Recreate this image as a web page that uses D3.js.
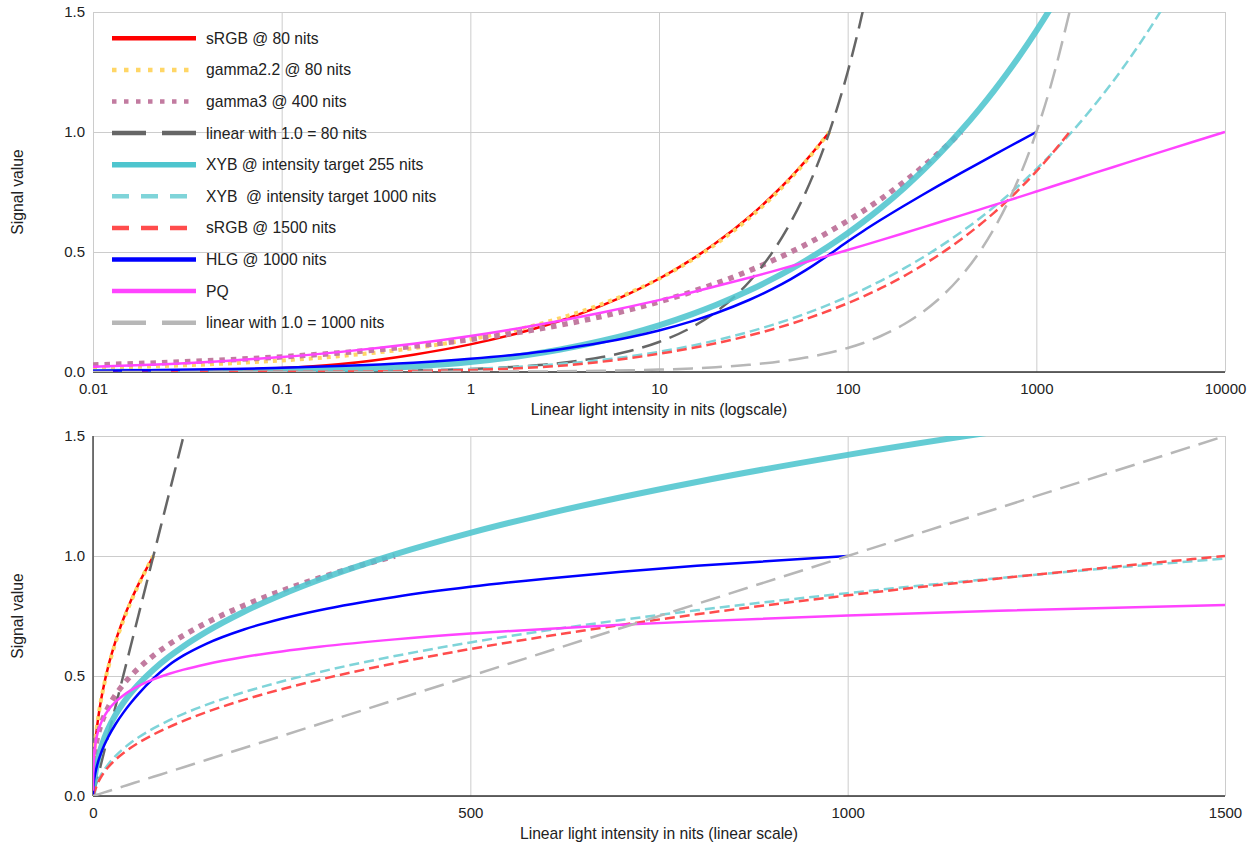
<!DOCTYPE html>
<html>
<head>
<meta charset="utf-8">
<script src="https://cdn.jsdelivr.net/npm/d3@7"></script>
<style>
  body { margin: 0; background: #fff; }
  svg { display: block; font-family: "Liberation Sans", Arial, sans-serif; }
</style>
</head>
<body>
<svg id="chart" width="1254" height="845"></svg>
<script>
// Linear light intensity (nits) shared by every series
const nits = [0.01, 0.02, 0.05, 0.1, 0.2, 0.5, 1, 2, 3, 5, 7, 10, 15, 20, 30, 40, 50, 60, 80,
  100, 120, 150, 200, 250, 300, 400, 500, 600, 700, 800, 1000, 1200, 1500, 2000, 3000, 4000, 5000, 7000, 10000];

// Signal values, index-aligned with nits (each series stops where it ends)
const srgb80 = [0.0016, 0.0032, 0.0081, 0.0162, 0.0323, 0.0723, 0.1150, 0.1718, 0.2136, 0.2773, 0.3273,
  0.3886, 0.4702, 0.5371, 0.6460, 0.7354, 0.8124, 0.8808, 1.0];
const gamma22at80 = [0.0168, 0.0231, 0.0350, 0.0479, 0.0657, 0.0996, 0.1364, 0.1870, 0.2248, 0.2836, 0.3305,
  0.3886, 0.4673, 0.5325, 0.6403, 0.7297, 0.8076, 0.8774, 1.0];
const gamma3at400 = [0.0292, 0.0368, 0.0500, 0.0630, 0.0794, 0.1077, 0.1357, 0.1710, 0.1957, 0.2321, 0.2596,
  0.2924, 0.3347, 0.3684, 0.4217, 0.4642, 0.5000, 0.5313, 0.5848, 0.6300, 0.6694, 0.7211, 0.7937, 0.8550,
  0.9086, 1.0];
const linear80 = [0.000125, 0.00025, 0.000625, 0.00125, 0.0025, 0.00625, 0.0125, 0.025, 0.0375, 0.0625,
  0.0875, 0.125, 0.1875, 0.25, 0.375, 0.5, 0.625, 0.75, 1.0, 1.25, 1.5, 1.875];
const xyb255 = [0.0005, 0.0011, 0.0026, 0.0052, 0.0101, 0.0232, 0.0416, 0.0707, 0.0937, 0.1301, 0.1590,
  0.1944, 0.2412, 0.2789, 0.3393, 0.3877, 0.4287, 0.4647, 0.5263, 0.5784, 0.6240, 0.6837, 0.7677, 0.8388,
  0.9009, 1.0069, 1.0965, 1.1748, 1.2449, 1.3086, 1.4215, 1.5203, 1.6496];
const xyb1000 = [0.0001, 0.0003, 0.0007, 0.0014, 0.0027, 0.0066, 0.0127, 0.0236, 0.0334, 0.0505, 0.0651,
  0.0839, 0.1099, 0.1317, 0.1674, 0.1965, 0.2215, 0.2436, 0.2816, 0.3140, 0.3424, 0.3798, 0.4325, 0.4772,
  0.5163, 0.5832, 0.6398, 0.6893, 0.7336, 0.7738, 0.8453, 0.9078, 0.9897, 1.1048, 1.2869, 1.4320, 1.5545];
const srgb1500 = [0.0001, 0.0002, 0.0004, 0.0009, 0.0017, 0.0043, 0.0086, 0.0172, 0.0258, 0.0430, 0.0577,
  0.0758, 0.0998, 0.1196, 0.1517, 0.1780, 0.2007, 0.2209, 0.2561, 0.2864, 0.3133, 0.3492, 0.4007, 0.4451,
  0.4845, 0.5532, 0.6125, 0.6652, 0.7130, 0.7569, 0.8360, 0.9063, 1.0];
const hlg1000 = [0.0055, 0.0077, 0.0122, 0.0173, 0.0245, 0.0387, 0.0548, 0.0775, 0.0949, 0.1225, 0.1449,
  0.1732, 0.2121, 0.2449, 0.3000, 0.3464, 0.3873, 0.4243, 0.4899, 0.5441, 0.5857, 0.6342, 0.6939, 0.7386,
  0.7743, 0.8295, 0.8716, 0.9057, 0.9343, 0.9590, 1.0];
const pq = [0.0215, 0.0302, 0.0461, 0.0624, 0.0828, 0.1175, 0.1499, 0.1882, 0.2133, 0.2478, 0.2723,
  0.2994, 0.3322, 0.3570, 0.3928, 0.4192, 0.4403, 0.4578, 0.4858, 0.5081, 0.5265, 0.5493, 0.5791, 0.6025,
  0.6219, 0.6526, 0.6767, 0.6963, 0.7131, 0.7276, 0.7519, 0.7718, 0.7961, 0.8274, 0.8713, 0.9025, 0.9266,
  0.9625, 1.0];
const linear1000 = [0.00001, 0.00002, 0.00005, 0.0001, 0.0002, 0.0005, 0.001, 0.002, 0.003, 0.005, 0.007,
  0.01, 0.015, 0.02, 0.03, 0.04, 0.05, 0.06, 0.08, 0.1, 0.12, 0.15, 0.2, 0.25, 0.3, 0.4, 0.5, 0.6, 0.7,
  0.8, 1.0, 1.2, 1.5];

const seriesNames = ["sRGB @ 80 nits", "gamma2.2 @ 80 nits", "gamma3 @ 400 nits", "linear with 1.0 = 80 nits",
  "XYB @ intensity target 255 nits", "XYB  @ intensity target 1000 nits", "sRGB @ 1500 nits",
  "HLG @ 1000 nits", "PQ", "linear with 1.0 = 1000 nits"];
const seriesValues = [srgb80, gamma22at80, gamma3at400, linear80, xyb255, xyb1000, srgb1500, hlg1000, pq, linear1000];

// Tick labels
const yTicks = [0, 0.5, 1.0, 1.5];
const logTicks = [0.01, 0.1, 1, 10, 100, 1000, 10000];
const logTickLabels = ["0.01", "0.1", "1", "10", "100", "1000", "10000"];
const linTicks = [0, 500, 1000, 1500];
const linTickLabels = ["0", "500", "1000", "1500"];

// Stroke styles for plot lines and legend samples
const styles = [
  { color: "#ff0000", w: 2.5, dash: null, lw: 4.5, ldash: null },
  { color: "#ffd666", w: 4, dash: "4,5", lw: 4.5, ldash: "4.5,7.5" },
  { color: "#c27ba0", w: 5.5, dash: "5.5,6", lw: 4.5, ldash: "4.5,7.5" },
  { color: "#666666", w: 2.5, dash: "20,9", lw: 4.5, ldash: "34,16" },
  { color: "#4ec5ce", w: 6, dash: null, lw: 5.5, ldash: null, opacity: 0.88 },
  { color: "#7fd4d9", w: 2.5, dash: "10,5", lw: 4.5, ldash: "17,12" },
  { color: "#ff4c4c", w: 2.5, dash: "10,5", lw: 4.5, ldash: "17,12" },
  { color: "#0000ff", w: 2.5, dash: null, lw: 4.5, ldash: null },
  { color: "#ff44ff", w: 2.5, dash: null, lw: 4.5, ldash: null },
  { color: "#b7b7b7", w: 2.5, dash: "20,9", lw: 4.5, ldash: "34,16" }
];

const svg = d3.select("#chart");
const L = 93, R = 1225;
const TEXT = "#222";
const FS = 15;

function panel(id, top, bottom, x, ticks, tickLabels, title, darkLeft) {
  const y = d3.scaleLinear().domain([0, 1.5]).range([bottom, top]);
  const g = svg.append("g");

  g.append("clipPath").attr("id", id)
    .append("rect").attr("x", L).attr("y", top).attr("width", R - L).attr("height", bottom - top);

  // horizontal gridlines + y labels
  const ya = g.append("g").attr("transform", `translate(${L},0)`)
    .call(d3.axisLeft(y).tickValues(yTicks).tickFormat(d3.format(".1f"))
      .tickSize(-(R - L)).tickPadding(8));
  ya.select(".domain").remove();
  ya.selectAll("line").attr("stroke", "#cccccc").attr("stroke-width", 1);
  ya.selectAll("text").attr("fill", TEXT).attr("font-size", FS);

  // vertical gridlines + x labels
  const xa = g.append("g").attr("transform", `translate(0,${bottom})`)
    .call(d3.axisBottom(x).tickValues(ticks).tickFormat((d, i) => tickLabels[i])
      .tickSize(-(bottom - top)).tickPadding(11));
  xa.select(".domain").remove();
  xa.selectAll("line").attr("stroke", "#cccccc").attr("stroke-width", 1);
  xa.selectAll("text").attr("fill", TEXT).attr("font-size", FS);

  // baselines
  g.append("line").attr("x1", L).attr("x2", R).attr("y1", y(0)).attr("y2", y(0))
    .attr("stroke", "#333").attr("stroke-width", 1.3);
  if (darkLeft) {
    g.append("line").attr("x1", x(0)).attr("x2", x(0)).attr("y1", top).attr("y2", bottom)
      .attr("stroke", "#333").attr("stroke-width", 1.3);
  }

  // series
  const line = d3.line().x(d => x(d[0])).y(d => y(d[1])).curve(d3.curveMonotoneX);
  const plot = g.append("g").attr("clip-path", `url(#${id})`);
  seriesValues.forEach((vals, i) => {
    const s = styles[i];
    const pts = vals.map((v, j) => [nits[j], v]);
    plot.append("path").datum(pts)
      .attr("d", line)
      .attr("fill", "none")
      .attr("stroke", s.color)
      .attr("stroke-width", s.w)
      .attr("stroke-dasharray", s.dash)
      .attr("stroke-opacity", s.opacity || 1)
      .attr("stroke-linejoin", "round");
  });

  // axis titles
  g.append("text").attr("x", (L + R) / 2).attr("y", bottom + 43)
    .attr("text-anchor", "middle").attr("fill", TEXT).attr("font-size", 15.7).text(title);
  g.append("text").attr("transform", `translate(23,${(top + bottom) / 2}) rotate(-90)`)
    .attr("text-anchor", "middle").attr("fill", TEXT).attr("font-size", 15.7).text("Signal value");
  return { y };
}

const xLog = d3.scaleLog().domain([0.01, 10000]).range([L, R]);
const xLin = d3.scaleLinear().domain([0, 1500]).range([L, R]);

panel("clipTop", 12, 372, xLog, logTicks, logTickLabels, "Linear light intensity in nits (logscale)", false);
panel("clipBottom", 436, 796, xLin, linTicks, linTickLabels, "Linear light intensity in nits (linear scale)", true);

// legend
const legend = svg.append("g");
const rowY = d3.scaleLinear().domain([0, 9]).range([38.3, 322.7]);
seriesNames.forEach((name, i) => {
  const s = styles[i];
  const yy = rowY(i);
  legend.append("line").attr("x1", 112).attr("x2", 196).attr("y1", yy).attr("y2", yy)
    .attr("stroke", s.color).attr("stroke-width", s.lw)
    .attr("stroke-dasharray", s.ldash);
  legend.append("text").attr("x", 206).attr("y", yy + 5.5)
    .attr("fill", TEXT).attr("font-size", 15.7).style("white-space", "pre").text(name);
});
</script>
</body>
</html>
